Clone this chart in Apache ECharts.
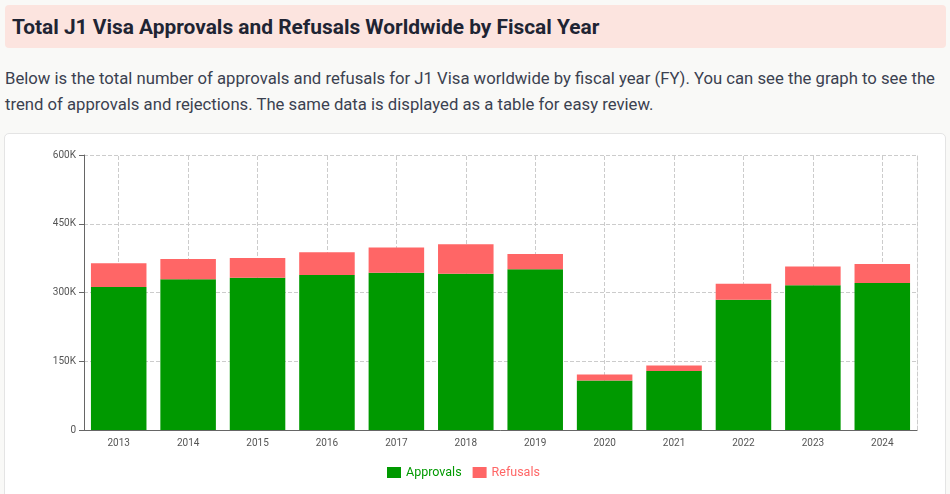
<!DOCTYPE html>
<html lang="en">
<head>
    <meta charset="UTF-8">
    <title>Total J1 Visa Approvals and Refusals Worldwide by Fiscal Year</title>
    <script src="https://cdn.jsdelivr.net/npm/echarts@6/dist/echarts.min.js"></script>
    <style>
        body {
            margin: 0;
            width: 950px;
            height: 494px;
            overflow: hidden;
            background: #f9f9f7;
            font-family: Roboto, 'Noto Sans', sans-serif;
            position: relative;
        }
        .title-box {
            position: absolute;
            left: 5px;
            top: 5px;
            width: 941px;
            height: 43px;
            background: #fce4df;
            border-radius: 4px;
        }
        .title-box h2 {
            margin: 0;
            padding-left: 7px;
            line-height: 44px;
            font-size: 20.9px;
            font-weight: 700;
            color: #1f2433;
        }
        .intro {
            position: absolute;
            left: 5px;
            top: 66px;
            width: 945px;
            margin: 0;
            font-size: 16.7px;
            line-height: 26px;
            color: #3b4150;
        }
        .card {
            position: absolute;
            left: 4px;
            top: 133px;
            width: 940px;
            height: 380px;
            background: #fff;
            border: 1px solid #e4e4e4;
            border-radius: 5px;
        }
        #chart {
            width: 940px;
            height: 360px;
        }
    </style>
</head>
<body>
    <div class="title-box"><h2>Total J1 Visa Approvals and Refusals Worldwide by Fiscal Year</h2></div>
    <p class="intro">Below is the total number of approvals and refusals for J1 Visa worldwide by fiscal year (FY). You can see the graph to see the trend of approvals and rejections. The same data is displayed as a table for easy review.</p>
    <div class="card"><div id="chart"></div></div>

    <script>
        // fiscal years
        const years = ['2013', '2014', '2015', '2016', '2017', '2018', '2019', '2020', '2021', '2022', '2023', '2024'];
        // approvals / refusals
        const approvals = [312000, 329000, 332000, 338000, 343000, 341000, 351000, 108000, 129000, 284000, 316000, 321000];
        const refusals = [52000, 44000, 43000, 50000, 55000, 64000, 33000, 13000, 12000, 35000, 41000, 41000];

        const gridDash = { type: 'dashed', color: '#ccc', width: 1 };

        const chart = echarts.init(document.getElementById('chart'));

        chart.setOption({
            animation: false,
            grid: { left: 79, right: 28, top: 21, bottom: 64 },
            legend: {
                left: 377,
                top: 327,
                itemWidth: 14,
                itemHeight: 11,
                itemGap: 11,
                icon: 'rect',
                textStyle: { fontSize: 12.5, fontFamily: 'Roboto' },
                data: [
                    { name: 'Approvals', textStyle: { color: '#009900' } },
                    { name: 'Refusals', textStyle: { color: '#ff6666' } }
                ]
            },
            xAxis: {
                type: 'category',
                data: years,
                axisLine: { lineStyle: { color: '#666' } },
                axisTick: { alignWithLabel: true, lineStyle: { color: '#666' } },
                axisLabel: { color: '#555', fontSize: 10, fontFamily: 'Roboto' },
                splitLine: { show: false }
            },
            yAxis: [
                {
                    type: 'value',
                    min: 0,
                    max: 600000,
                    interval: 150000,
                    axisLine: { show: true, lineStyle: { color: '#666' } },
                    axisTick: { show: true, lineStyle: { color: '#666' } },
                    axisLabel: {
                        color: '#555',
                        fontSize: 10,
                        fontFamily: 'Roboto',
                        padding: [5, 0, 0, 0],
                        formatter: v => v === 0 ? '0' : (v / 1000) + 'K'
                    },
                    splitLine: { lineStyle: gridDash }
                },
                {
                    // only to draw the dashed right edge of the grid
                    type: 'value',
                    position: 'right',
                    min: 0,
                    max: 600000,
                    interval: 150000,
                    axisLine: { show: true, lineStyle: gridDash },
                    axisTick: { show: false },
                    axisLabel: { show: false },
                    splitLine: { show: false }
                }
            ],
            series: [
                {
                    name: 'Approvals',
                    type: 'bar',
                    stack: 'total',
                    barCategoryGap: '20%',
                    itemStyle: { color: '#009900' },
                    data: approvals,
                    z: 3,
                    markLine: {
                        silent: true,
                        symbol: 'none',
                        label: { show: false },
                        z: 1,
                        lineStyle: gridDash,
                        data: years.map(y => ({ xAxis: y }))
                    }
                },
                {
                    name: 'Refusals',
                    type: 'bar',
                    stack: 'total',
                    itemStyle: { color: '#ff6666' },
                    data: refusals,
                    z: 3
                }
            ]
        });
    </script>
</body>
</html>
